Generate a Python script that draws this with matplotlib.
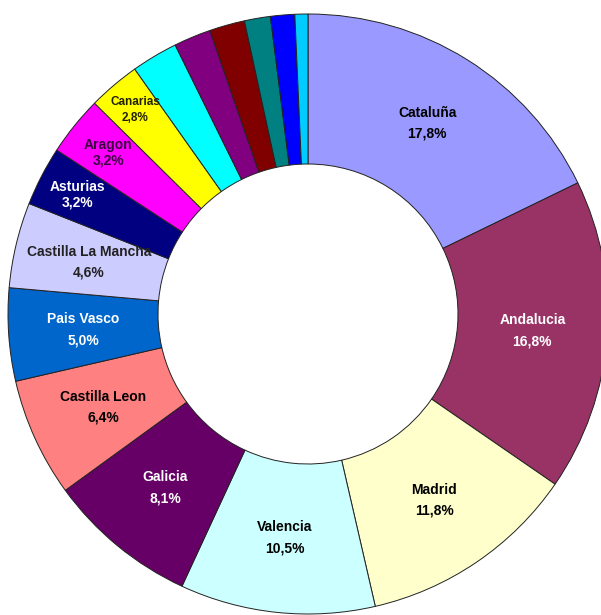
import numpy as np
import matplotlib
matplotlib.use("Agg")
import matplotlib.pyplot as plt

# data, clockwise from 12 o'clock
regions = ["Cataluña", "Andalucia", "Madrid", "Valencia", "Galicia",
           "Castilla Leon", "Pais Vasco", "Castilla La Mancha", "Asturias",
           "Aragon", "Canarias", "", "", "", "", "", ""]
shares = [17.8, 16.8, 11.8, 10.5, 8.1, 6.4, 5.0, 4.6, 3.2, 3.2, 2.8,
          2.5, 2.0, 1.9, 1.4, 1.3, 0.7]
colors = ["#9999FF", "#993366", "#FFFFCC", "#CCFFFF", "#660066", "#FF8080",
          "#0066CC", "#CCCCFF", "#000080", "#FF00FF", "#FFFF00", "#00FFFF",
          "#800080", "#800000", "#008080", "#0000FF", "#00CCFF"]
text_colors = ["black", "white", "black", "black", "white", "black",
               "white", "#222222", "white", "#3A0040", "#222200"]

plt.rcParams['font.family'] = ['Liberation Sans', 'DejaVu Sans']

fig = plt.figure(figsize=(6.01, 6.15), dpi=100)
ax = fig.add_axes([0, 0, 1, 1])

wedges, _ = ax.pie(shares, colors=colors, startangle=90, counterclock=False,
                   radius=1.0,
                   wedgeprops=dict(width=0.5, edgecolor="#222222", linewidth=0.7))

for w, name, val, tc in zip(wedges, regions, shares, text_colors):
    if not name:
        continue
    ang = np.deg2rad((w.theta1 + w.theta2) / 2)
    # small slices get their labels pushed outwards
    if name == "Canarias":
        r, fs, gap = 0.89, 8.5, 0.053
    elif name == "Aragon":
        r, fs, gap = 0.855, 10, 0.053
    elif name == "Asturias":
        r, fs, gap = 0.865, 10, 0.053
    else:
        r, fs, gap = 0.75, 10, 0.07
    x, y = r * np.cos(ang), r * np.sin(ang)
    pct = f"{val:.1f}%".replace(".", ",")
    ax.text(x, y + gap / 2, name, ha="center", va="center",
            fontsize=fs, fontweight="bold", color=tc)
    ax.text(x, y - gap / 2, pct, ha="center", va="center",
            fontsize=fs, fontweight="bold", color=tc)

# centre at pixel (308, 314), radius 300 px
ax.set_xlim(-308 / 300, (601 - 308) / 300)
ax.set_ylim(-(615 - 314) / 300, 314 / 300)
ax.set_aspect("auto")
ax.axis("off")

fig.savefig("out.png", dpi=100, facecolor="white")
